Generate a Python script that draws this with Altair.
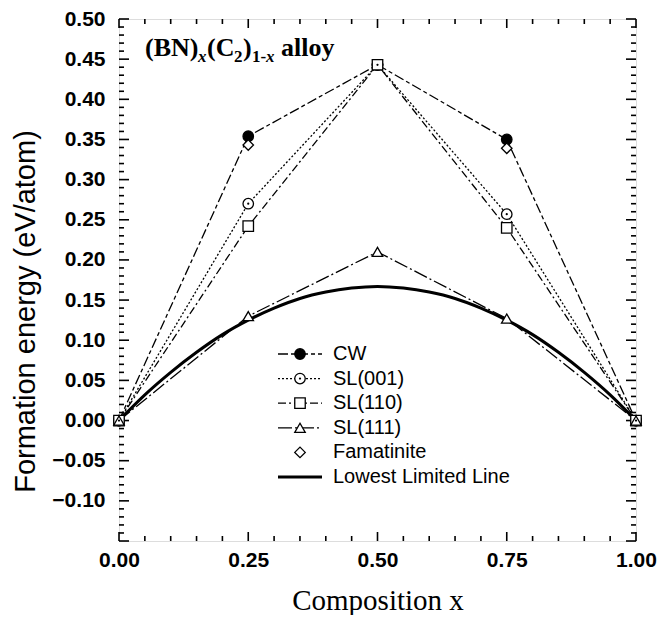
import altair as alt
import pandas as pd

# ---------------- data ----------------
comp = [0.0, 0.25, 0.50, 0.75, 1.0]
cw = [0.0, 0.354, 0.443, 0.350, 0.0]
sl001 = [0.0, 0.270, 0.443, 0.257, 0.0]
sl110 = [0.0, 0.242, 0.443, 0.240, 0.0]
sl111 = [0.0, 0.130, 0.210, 0.127, 0.0]
fam_x = [0.25, 0.75]
fam_y = [0.343, 0.339]
low_x = [0.0, 0.05, 0.10, 0.15, 0.20, 0.25, 0.30, 0.35, 0.40, 0.45, 0.50,
         0.55, 0.60, 0.65, 0.70, 0.75, 0.80, 0.85, 0.90, 0.95, 1.0]
low_y = [0.0, 0.032, 0.060, 0.085, 0.107, 0.125, 0.140, 0.152, 0.160, 0.165, 0.167,
         0.165, 0.160, 0.152, 0.140, 0.125, 0.107, 0.085, 0.060, 0.032, 0.0]

series_names = ["CW", "SL(001)", "SL(110)", "SL(111)", "Famatinite", "Lowest Limited Line"]
x_tick_labels = [0.0, 0.25, 0.50, 0.75, 1.0]
y_tick_labels = [-0.10, -0.05, 0.0, 0.05, 0.10, 0.15, 0.20, 0.25, 0.30, 0.35, 0.40, 0.45, 0.50]
x_minor = [round(i * 0.05, 2) for i in range(0, 21)]
y_minor = [round(-0.15 + i * 0.01, 2) for i in range(0, 66)]

# ---------------- styles ----------------
W, H = 517, 522
dash = {"CW": [10, 3, 4, 3], "SL(001)": [2, 2], "SL(110)": [8, 3, 2, 3],
        "SL(111)": [14, 3, 2, 3], "Lowest Limited Line": [1, 0]}
shape = {"CW": "circle", "SL(001)": "circle", "SL(110)": "square",
         "SL(111)": "triangle-up", "Famatinite": "diamond"}
fill = {"CW": "black", "SL(001)": "white", "SL(110)": "white",
        "SL(111)": "white", "Famatinite": "white"}

rows = []
for name, ys in [("CW", cw), ("SL(001)", sl001), ("SL(110)", sl110), ("SL(111)", sl111)]:
    for xv, yv in zip(comp, ys):
        rows.append({"x": xv, "y": yv, "series": name})
for xv, yv in zip(fam_x, fam_y):
    rows.append({"x": xv, "y": yv, "series": "Famatinite"})
df = pd.DataFrame(rows)
low_df = pd.DataFrame({"x": low_x, "y": low_y})

xs = alt.Scale(domain=[0, 1], nice=False, zero=False)
ys_ = alt.Scale(domain=[-0.15, 0.5], nice=False, zero=False)

line_names = ["CW", "SL(001)", "SL(110)", "SL(111)"]
mk_names = ["CW", "SL(001)", "SL(110)", "SL(111)", "Famatinite"]

base = alt.Chart(df)

lines = base.transform_filter(
    alt.FieldOneOfPredicate(field="series", oneOf=line_names)
).mark_line(color="black", strokeWidth=1.3).encode(
    x=alt.X("x:Q", scale=xs,
            axis=alt.Axis(values=x_tick_labels, format=".2f", title="Composition x",
                          domain=False, ticks=False, grid=False, labelFlush=False,
                          labelFont="Liberation Sans", labelFontWeight="bold",
                          labelFontSize=21, labelColor="black", labelPadding=8,
                          titleFont="Liberation Serif", titleFontWeight="normal",
                          titleFontSize=29, titleColor="black", titlePadding=16)),
    y=alt.Y("y:Q", scale=ys_,
            axis=alt.Axis(values=y_tick_labels, format=".2f",
                          title="Formation energy (eV/atom)",
                          domain=False, ticks=False, grid=False, labelFlush=False,
                          labelFont="Liberation Sans", labelFontWeight="bold",
                          labelFontSize=21, labelColor="black", labelPadding=14,
                          titleFont="Liberation Sans", titleFontWeight="normal",
                          titleFontSize=29, titleColor="black", titlePadding=9,
                          titleY=292, minExtent=70, maxExtent=70)),
    strokeDash=alt.StrokeDash("series:N",
                              scale=alt.Scale(domain=line_names,
                                              range=[dash[n] for n in line_names]),
                              legend=None),
    detail="series:N",
)

low = alt.Chart(low_df).mark_line(color="black", strokeWidth=3, interpolate="monotone").encode(
    x=alt.X("x:Q", scale=xs), y=alt.Y("y:Q", scale=ys_)
)

points = base.mark_point(filled=True, stroke="black", strokeWidth=1.3, size=110, opacity=1).encode(
    x=alt.X("x:Q", scale=xs),
    y=alt.Y("y:Q", scale=ys_),
    shape=alt.Shape("series:N", scale=alt.Scale(domain=mk_names,
                                                range=[shape[n] for n in mk_names]), legend=None),
    fill=alt.Fill("series:N", scale=alt.Scale(domain=mk_names,
                                              range=[fill[n] for n in mk_names]), legend=None),
)

dots = base.transform_filter(alt.datum.series == "SL(001)").mark_point(
    filled=True, color="black", size=5, opacity=1
).encode(x=alt.X("x:Q", scale=xs), y=alt.Y("y:Q", scale=ys_))

# ---------------- ticks (inward, all four sides) ----------------
ytk = pd.DataFrame({"v": y_minor})
ytk["major"] = [abs(round(v / 0.05) * 0.05 - v) < 1e-9 for v in y_minor]
xtk = pd.DataFrame({"v": x_minor})
xtk["major"] = [abs(round(v / 0.25) * 0.25 - v) < 1e-9 for v in x_minor]

def yticks(side, major):
    d = ytk[ytk["major"] == major]
    ln = 10 if major else 5
    x0, x1 = (0, ln) if side == "left" else (W, W - ln)
    return alt.Chart(d).mark_rule(color="black", strokeWidth=1.6).encode(
        y=alt.Y("v:Q", scale=ys_), x=alt.value(x0), x2=alt.value(x1))

def xticks(side, major):
    d = xtk[xtk["major"] == major]
    ln = 9 if major else 5
    y0, y1 = (H, H - ln) if side == "bottom" else (0, ln)
    return alt.Chart(d).mark_rule(color="black", strokeWidth=1.6).encode(
        x=alt.X("v:Q", scale=xs), y=alt.value(y0), y2=alt.value(y1))

tick_layers = [yticks(s, m) for s in ["left", "right"] for m in [True, False]] + \
              [xticks(s, m) for s in ["bottom", "top"] for m in [True, False]]

# ---------------- legend (manual) ----------------
leg_layers = []
row_y0, row_dy = 335, 24.6
lx0, lx1, lxm, ltx = 159, 203, 181, 214
for i, name in enumerate(series_names):
    yy = row_y0 + i * row_dy
    one = pd.DataFrame({"series": [name]})
    if name != "Famatinite":
        sw = 3 if name == "Lowest Limited Line" else 1.3
        leg_layers.append(alt.Chart(one).mark_rule(
            color="black", strokeWidth=sw, strokeDash=dash[name]).encode(
            x=alt.value(lx0), x2=alt.value(lx1), y=alt.value(yy)))
    if name in shape:
        leg_layers.append(alt.Chart(one).mark_point(
            filled=True, fill=fill[name], stroke="black", strokeWidth=1.3,
            shape=shape[name], size=110, opacity=1).encode(
            x=alt.value(lxm), y=alt.value(yy)))
    if name == "SL(001)":
        leg_layers.append(alt.Chart(one).mark_point(
            filled=True, color="black", size=5, opacity=1).encode(
            x=alt.value(lxm), y=alt.value(yy)))
    leg_layers.append(alt.Chart(one).mark_text(
        align="left", baseline="middle", font="Liberation Sans", fontSize=20,
        color="black").encode(x=alt.value(ltx), y=alt.value(yy), text="series:N"))

# ---------------- annotation (BN)x(C2)1-x alloy ----------------
big, sub = 26, 17
pieces = [
    ("(BN)", big, "normal", 0, 53),
    ("x", sub, "italic", 6, 9),
    ("(C", big, "normal", 0, 27),
    ("2", sub, "normal", 6, 9),
    (")", big, "normal", 0, 9),
    ("1-", sub, "normal", 6, 14),
    ("x", sub, "italic", 6, 15),
    ("alloy", big, "normal", 0, 54),
]
ann_layers = []
cx = 26
for txt, fs, style, dy, wdt in pieces:
    ann_layers.append(alt.Chart(pd.DataFrame({"t": [txt]})).mark_text(
        align="left", baseline="alphabetic", font="Liberation Serif",
        fontWeight="bold", fontStyle=style, fontSize=fs, color="black").encode(
        x=alt.value(cx), y=alt.value(37 + dy), text="t:N"))
    cx += wdt

chart = alt.layer(
    *tick_layers, low, lines, points, dots, *leg_layers, *ann_layers
).properties(
    width=W, height=H,
    padding={"left": 3, "top": 0, "right": 5, "bottom": 0},
).configure_view(stroke="black", strokeWidth=2).configure(background="white")

chart.save("out.html", embed_options={"renderer": "svg", "actions": False})
